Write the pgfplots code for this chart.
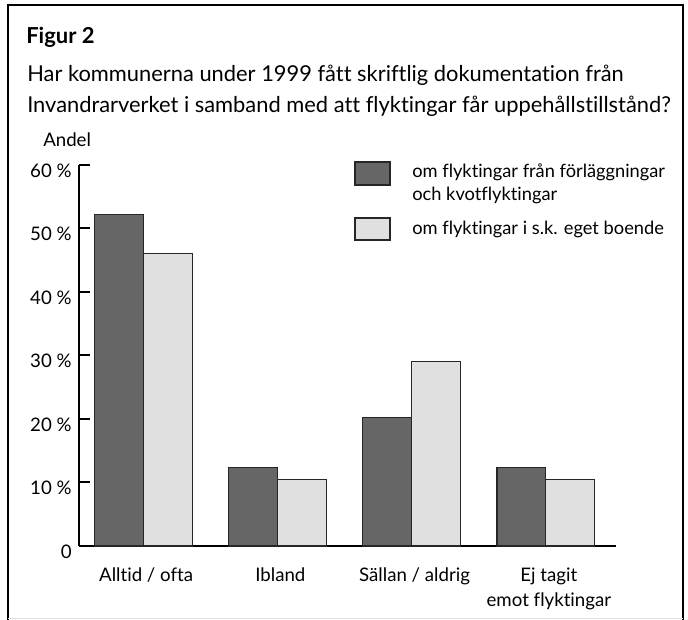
\documentclass[border=0pt]{standalone}
\usepackage{pgfplots}
\pgfplotsset{compat=1.18}
\usepackage{fontspec}
\setmainfont{Lato}[Ligatures=NoCommon]
\definecolor{darkbar}{HTML}{666666}
\definecolor{lightbar}{HTML}{E0E0E0}
\begin{document}
\begin{tikzpicture}[x=0.75pt,y=0.75pt]
% coordinates in pixels, origin at the bottom left
\useasboundingbox (0,0) rectangle (688,620);
\draw[line width=1.8pt] (8,-1) -- (8,615) -- (683,615) -- (683,-1);
\draw[black!12, line width=0.75pt] (8,1) -- (683,1);
\node[anchor=base west, inner sep=0, font=\fontsize{16.5}{20}\selectfont\bfseries] at (26,576) {Figur 2};
\node[anchor=base west, inner sep=0, font=\fontsize{16.4}{20}\selectfont] at (27,538) {Har kommunerna under 1999 fått skriftlig dokumentation från};
\node[anchor=base west, inner sep=0, font=\fontsize{16.4}{20}\selectfont] at (27,507) {Invandrarverket i samband med att flyktingar får uppehållstillstånd?};
\node[anchor=base west, inner sep=0, font=\fontsize{14}{16}\selectfont] at (43,473) {Andel};
\begin{axis}[
    at={(59.25pt,55.5pt)}, anchor=south west,
    scale only axis,
    width=402.75pt, height=285.75pt,
    xmin=-0.5, xmax=3.5, ymin=0, ymax=60,
    axis x line=bottom, axis y line=left,
    axis line style={-, line width=1.5pt},
    every tick/.style={black, line width=1.5pt},
    ytick={0,10,...,60},
    yticklabels={0,10 \%,20 \%,30 \%,40 \%,50 \%,60 \%},
    tick align=inside,
    major tick length=8.25pt,
    yticklabel style={font=\fontsize{14}{16}\selectfont, xshift=-2pt, yshift=-4pt},
    xtick={0,1,2,3},
    xticklabels={Alltid / ofta,Ibland,Sällan / aldrig,Ej tagit\\emot flyktingar},
    xticklabel style={font=\fontsize{14}{19}\selectfont, align=center, yshift=-13pt},
    x tick style={draw=none},
    extra x ticks={0.5,1.5,2.5,3.5},
    extra x tick labels={},
    extra x tick style={major tick length=6pt, tick style={draw=black, line width=1.5pt}},
    clip=false,
]
\addplot[ybar, bar width=0.364, bar shift=-0.2045, fill=darkbar, draw=black!85, line width=0.8pt]
    coordinates {(0,52.2) (1,12.3) (2,20.3) (3,12.3)};
\addplot[ybar, bar width=0.364, bar shift=0.16, fill=lightbar, draw=black!85, line width=0.8pt]
    coordinates {(0,46.0) (1,10.5) (2,29.1) (3,10.5)};
\end{axis}
% legend
\draw[fill=darkbar, draw=black!85, line width=0.8pt] (355,458) rectangle (390,435);
\draw[fill=lightbar, draw=black!85, line width=0.8pt] (355,402) rectangle (390,380);
\node[anchor=base west, inner sep=0, font=\fontsize{13.7}{17}\selectfont] at (412,442) {om flyktingar från förläggningar};
\node[anchor=base west, inner sep=0, font=\fontsize{13.7}{17}\selectfont] at (412,419) {och kvotflyktingar};
\node[anchor=base west, inner sep=0, font=\fontsize{13.7}{17}\selectfont] at (412,385) {om flyktingar i s.k. eget boende};
\end{tikzpicture}
\end{document}
